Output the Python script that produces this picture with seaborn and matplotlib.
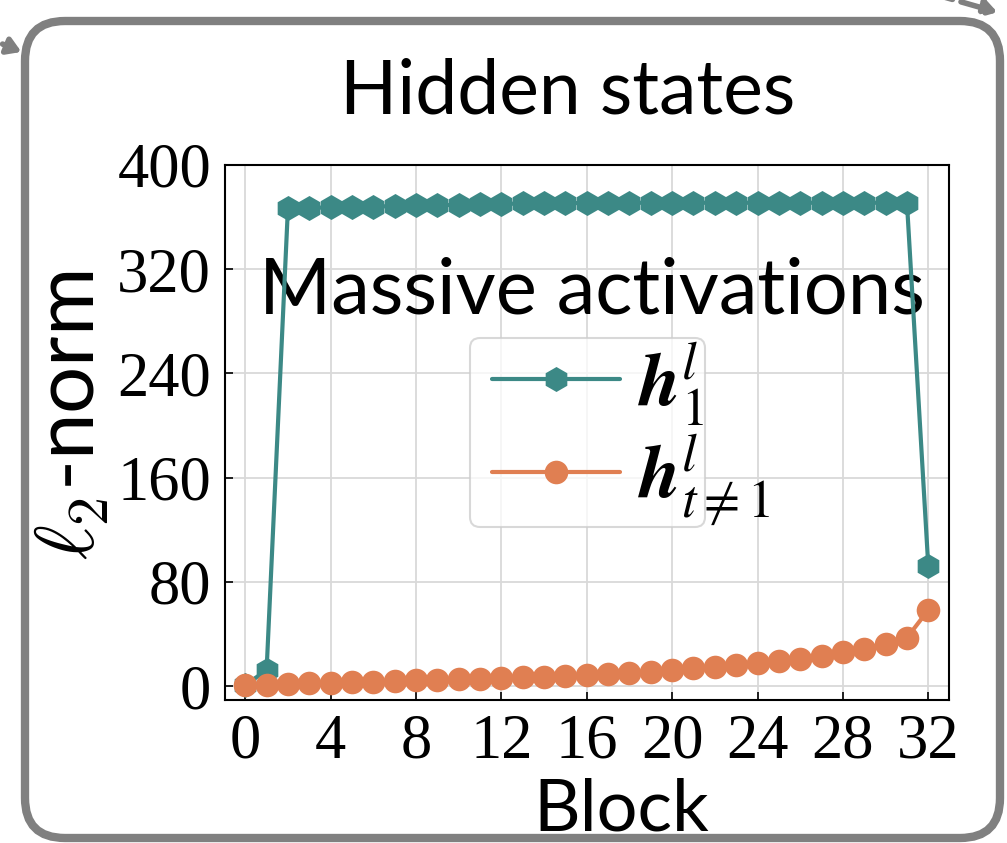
import numpy as np
import matplotlib
matplotlib.use("Agg")
import matplotlib.pyplot as plt
import seaborn as sns
from matplotlib.patches import FancyBboxPatch, FancyArrowPatch
from matplotlib.transforms import IdentityTransform

# data
blocks = np.arange(33)
first_token = [1, 12, 367, 367, 367.5, 368, 368, 368.5, 369, 369, 369.5, 370, 370,
               370.5, 370.5, 370.5, 371, 371, 371, 371, 371, 371, 371, 371, 371,
               371, 371, 371, 371, 371, 371, 371, 92]
other_tokens = [0.5, 1.0, 1.5, 2.0, 2.5, 3.0, 3.4, 3.8, 4.3, 4.8, 5.3, 5.8, 6.3,
                6.8, 7.3, 7.8, 8.3, 9.0, 9.8, 11.0, 12.3, 13.6, 14.8, 16.1, 17.4,
                19.2, 21.0, 23.3, 25.9, 28.4, 32.0, 37.1, 58.4]
x_ticks = [0, 4, 8, 12, 16, 20, 24, 28, 32]
y_ticks = [0, 80, 160, 240, 320, 400]
labels = [r"$\mathbfit{h}_1^l$", r"$\mathbfit{h}_{t\neq1}^l$"]

teal = "#3c8986"
orange = "#e07f52"

sns.set_style("whitegrid")
plt.rcParams["font.family"] = ["Lato", "DejaVu Sans"]
plt.rcParams["mathtext.fontset"] = "cm"
plt.rcParams["text.color"] = "black"
plt.rcParams["axes.labelcolor"] = "black"
plt.rcParams["xtick.color"] = "black"
plt.rcParams["ytick.color"] = "black"

fig = plt.figure(figsize=(10.07, 8.43), dpi=100)
ax = fig.add_axes([0.2234, 0.1696, 0.7190, 0.6347])

sns.lineplot(x=blocks, y=first_token, ax=ax, color=teal, marker="h",
             markersize=18, markeredgewidth=0, linewidth=3, zorder=3)
sns.lineplot(x=blocks, y=other_tokens, ax=ax, color=orange, marker="o",
             markersize=17, markeredgewidth=0, linewidth=3, zorder=4)

ax.set_xlim(-0.95, 32.97)
ax.set_ylim(-10.7, 400)
ax.set_xticks(x_ticks)
ax.set_yticks(y_ticks)
ax.tick_params(direction="in", length=6, width=1.2, left=True, bottom=True,
               pad=10, labelsize=45, color="black")
for lab in ax.get_xticklabels() + ax.get_yticklabels():
    lab.set_family("Liberation Serif")
ax.grid(True, color="#d9d9d9", linewidth=1.3)
for s in ax.spines.values():
    s.set_color("black")
    s.set_linewidth(1.5)

ax.set_xlabel("Block", fontsize=52)
ax.xaxis.set_label_coords(0.547, -0.145)
ax.set_ylabel(r"$\ell_2$-norm", fontsize=60)
ax.yaxis.set_label_coords(-0.158, 0.533)

# title and annotation
fig.text(0.5636, 1 - 114 / 843, "Hidden states", ha="center", va="baseline",
         fontsize=54)
ax.text(259 / 1007, 1 - 313 / 843, "Massive activations", ha="left",
        va="baseline", fontsize=56, transform=fig.transFigure, zorder=2)

# legend: frame drawn by hand, text spills over it like the original
frame = FancyBboxPatch((470, 843 - 527), 235, 189,
                       boxstyle="round,pad=0,rounding_size=10",
                       transform=IdentityTransform(), facecolor="white",
                       alpha=0.75, edgecolor="#cccccc", linewidth=1.5, zorder=2.5)
ax.add_patch(frame)
leg = ax.legend(ax.get_lines()[:2], labels, loc="upper left",
                bbox_to_anchor=(492 / 1007, 1 - 340 / 843),
                bbox_transform=fig.transFigure, frameon=False, borderpad=0,
                borderaxespad=0, handlelength=1.7, handletextpad=0.25,
                labelspacing=0.05,
                prop={"size": 54, "math_fontfamily": "stix"})

# the rounded panel border and bits of arrows around it
panel = FancyBboxPatch((25, 5), 975, 817, boxstyle="round,pad=0,rounding_size=40",
                       transform=IdentityTransform(), facecolor="none",
                       edgecolor="#808080", linewidth=6)
fig.patches.append(panel)
fig.patches.append(FancyArrowPatch((0, 800), (24, 790), transform=IdentityTransform(),
                                   arrowstyle="-|>,head_length=8,head_width=5",
                                   color="#808080", linewidth=4))
fig.patches.append(FancyArrowPatch((930, 850), (1000, 830), transform=IdentityTransform(),
                                   arrowstyle="-|>,head_length=8,head_width=5",
                                   color="#808080", linewidth=4, linestyle="--"))

fig.savefig("out.png", dpi=100)
